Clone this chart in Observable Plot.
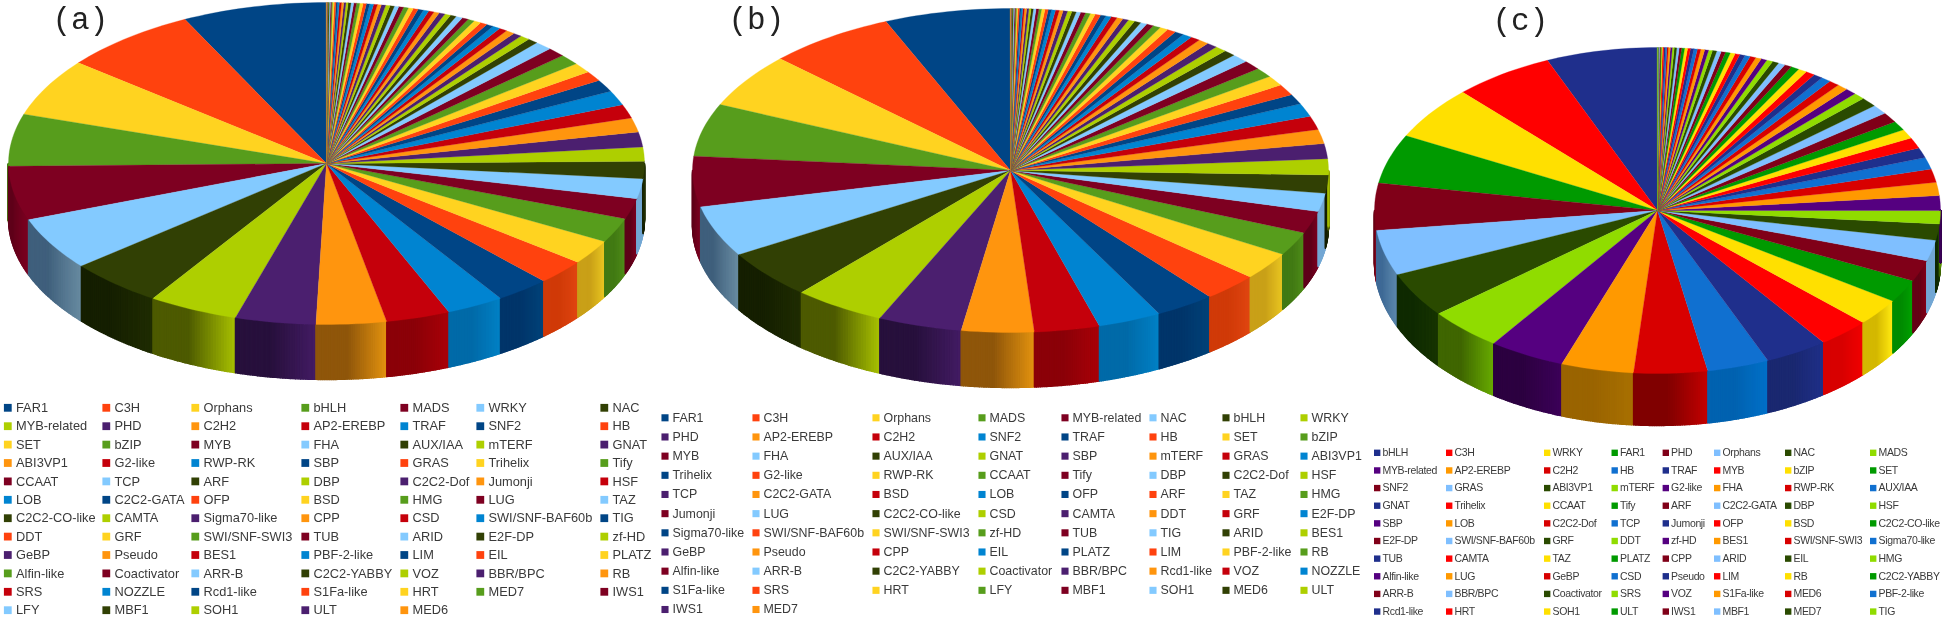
<!DOCTYPE html>
<html><head><meta charset="utf-8">
<script src="https://cdn.jsdelivr.net/npm/d3@7"></script>
<script src="https://cdn.jsdelivr.net/npm/@observablehq/plot@0.6"></script>
<style>
html,body{margin:0;padding:0;background:#fff;overflow:hidden}
svg{display:block;filter:blur(.35px)}
.legc text{letter-spacing:-.35px}
</style></head><body><div id="chart"></div>
<script>
// ---------- data: families in legend order, shares (degrees of arc) ----------
const namesA = ["FAR1","C3H","Orphans","bHLH","MADS","WRKY","NAC",
"MYB-related","PHD","C2H2","AP2-EREBP","TRAF","SNF2","HB",
"SET","bZIP","MYB","FHA","AUX/IAA","mTERF","GNAT",
"ABI3VP1","G2-like","RWP-RK","SBP","GRAS","Trihelix","Tify",
"CCAAT","TCP","ARF","DBP","C2C2-Dof","Jumonji","HSF",
"LOB","C2C2-GATA","OFP","BSD","HMG","LUG","TAZ",
"C2C2-CO-like","CAMTA","Sigma70-like","CPP","CSD","SWI/SNF-BAF60b","TIG",
"DDT","GRF","SWI/SNF-SWI3","TUB","ARID","E2F-DP","zf-HD",
"GeBP","Pseudo","BES1","PBF-2-like","LIM","EIL","PLATZ",
"Alfin-like","Coactivator","ARR-B","C2C2-YABBY","VOZ","BBR/BPC","RB",
"SRS","NOZZLE","Rcd1-like","S1Fa-like","HRT","MED7","IWS1",
"LFY","MBF1","SOH1","ULT","MED6"];
const valuesA = [26.4,24.8,20.8,18.8,19.4,19.1,17.3,16.4,14.7,12.8,11.7,10.5,9.9,9.1,8.8,8.9,7.4,7.2,6.2,5.1,5.4,5.1,5,5.2,4.4,3.6,3.6,3.8,3.3,3.2,
1.9,1.8,1.6,1.6,1.5,1.4,1.3,1.3,1.3,1.2,1.2,1.2,1.1,1.1,1.1,1,1,1,1,.9,.9,.9,.9,.8,.8,.8,.8,.7,.7,.7,.6,.6,.6,.6,.5,.5,.5,.4,.4,.4,.4,.3,.3,.3,.3,.2,.2,.2,.2,.1,.1,.1];

const namesB = ["FAR1","C3H","Orphans","MADS","MYB-related","NAC","bHLH","WRKY",
"PHD","AP2-EREBP","C2H2","SNF2","TRAF","HB","SET","bZIP",
"MYB","FHA","AUX/IAA","GNAT","SBP","mTERF","GRAS","ABI3VP1",
"Trihelix","G2-like","RWP-RK","CCAAT","Tify","DBP","C2C2-Dof","HSF",
"TCP","C2C2-GATA","BSD","LOB","OFP","ARF","TAZ","HMG",
"Jumonji","LUG","C2C2-CO-like","CSD","CAMTA","DDT","GRF","E2F-DP",
"Sigma70-like","SWI/SNF-BAF60b","SWI/SNF-SWI3","zf-HD","TUB","TIG","ARID","BES1",
"GeBP","Pseudo","CPP","EIL","PLATZ","LIM","PBF-2-like","RB",
"Alfin-like","ARR-B","C2C2-YABBY","Coactivator","BBR/BPC","Rcd1-like","VOZ","NOZZLE",
"S1Fa-like","SRS","HRT","LFY","MBF1","SOH1","MED6","ULT",
"IWS1","MED7"];
const valuesB = [23,23.3,19.5,18.9,18,18.3,17.5,16.8,15.3,13.2,11.9,11.6,10.9,10.1,9.9,8.5,7.9,6.6,6.5,5.7,5.4,5.1,4.9,4.7,3.6,3.9,3.6,3.5,3.3,3.1,
2.2,2.1,2,1.9,1.8,1.7,1.7,1.6,1.5,1.4,1.3,1.2,1.2,1.2,1.1,1.1,1.1,1,1,1,.9,.9,.9,.8,.8,.8,.8,.7,.7,.7,.6,.6,.6,.5,.5,.5,.4,.4,.4,.4,.3,.3,.3,.3,.2,.2,.2,.2,.2,.1,.1,.1];

const namesC = ["bHLH","C3H","WRKY","FAR1","PHD","Orphans","NAC","MADS",
"MYB-related","AP2-EREBP","C2H2","HB","TRAF","MYB","bZIP","SET",
"SNF2","GRAS","ABI3VP1","mTERF","G2-like","FHA","RWP-RK","AUX/IAA",
"GNAT","Trihelix","CCAAT","Tify","ARF","C2C2-GATA","DBP","HSF",
"SBP","LOB","C2C2-Dof","TCP","Jumonji","OFP","BSD","C2C2-CO-like",
"E2F-DP","SWI/SNF-BAF60b","GRF","DDT","zf-HD","BES1","SWI/SNF-SWI3","Sigma70-like",
"TUB","CAMTA","TAZ","PLATZ","CPP","ARID","EIL","HMG",
"Alfin-like","LUG","GeBP","CSD","Pseudo","LIM","RB","C2C2-YABBY",
"ARR-B","BBR/BPC","Coactivator","SRS","VOZ","S1Fa-like","MED6","PBF-2-like",
"Rcd1-like","HRT","SOH1","ULT","IWS1","MBF1","MED7","TIG"];
const valuesC = [22.9,20.6,19.2,17.6,16.7,16.2,16.1,15.3,15.6,14.9,15.1,12.7,13,10.6,9.7,8.2,7.6,7.4,5.8,4.7,5.3,4.7,4.8,4.2,3.6,3.8,3.3,3.3,3.6,3.4,3.4,
2.4,2.3,2.2,2.2,2,1.9,1.9,1.8,1.7,1.5,1.4,1.3,1.3,1.2,1.2,1.2,1.1,1.1,1,1,1,.9,.9,.9,.8,.8,.8,.7,.7,.7,.6,.6,.6,.5,.5,.5,.4,.4,.4,.3,.3,.3,.3,.2,.2,.2,.2,.1,.1];

// ---------- styles ----------
const paletteAB = ["#004586","#ff420e","#ffd320","#579d1c","#7e0021","#83caff","#314004","#aecf00","#4b1f6f","#ff950e","#c5000b","#0084d1"];
const wallDarkAB = ["#00356a","#d03a08","#c9a018","#427a14","#5f001a","#3f5f7c","#151f00","#4d5a00","#27103c","#8f560a","#8b0008","#006aa8"];
const wallLightAB = ["#004278","#e04510","#e8c420","#4f8c18","#7a0020","#66899f","#1f2c02","#a4bc00","#421b62","#e0900f","#a80008","#0080c4"];
const paletteC = ["#1f2f8c","#ff0000","#ffe000","#009a00","#800018","#7fbfff","#2a4a00","#90dc00","#550080","#ff9900","#d80000","#1070d0"];
const wallDarkC = ["#1a2870","#d80000","#d4b800","#008c00","#650016","#3f6a96","#0f2a00","#3f6600","#2c0040","#9a6400","#800000","#0062b0"];
const wallLightC = ["#1f2f88","#f00000","#ffe810","#00a000","#800018","#5a86ac","#163400","#66a800","#3c0058","#a87000","#c00000","#0070c8"];
const rimLightBlue = "#74a8d4"; // the pale wall on the right-hand rim

// ---------- layout ----------
const pies = [
  {id:"a",names:namesA,values:valuesA,cx:326,cy:163,rx:318,ry:161,depth:55,palette:paletteAB,wd:wallDarkAB,wl:wallLightAB},
  {id:"b",names:namesB,values:valuesB,cx:1010,cy:170,rx:318,ry:162,depth:55,palette:paletteAB,wd:wallDarkAB,wl:wallLightAB},
  {id:"c",names:namesC,values:valuesC,cx:1657,cy:210,rx:283,ry:163,depth:52,palette:paletteC,wd:wallDarkC,wl:wallLightC}
];
const panelLabels = [{t:"(a)",x:52,y:19},{t:"(b)",x:728,y:19},{t:"(c)",x:1492,y:20}];
const legends = [
  {names:namesA,palette:paletteAB,cols:[15.5,114,203,313,412,488,612],y0:407.3,step:18.4,size:12.8,off:8.2,r:4.4,cls:null},
  {names:namesB,palette:paletteAB,cols:[672,763,883,989,1072,1160,1233,1311],y0:417.3,step:19.17,size:12.4,off:7.5,r:4,cls:null},
  {names:namesC,palette:paletteC,cols:[1382,1454,1552,1619.5,1670.6,1722,1793,1878],y0:452.3,step:17.64,size:10.5,off:5.3,r:3.6,cls:"legc"}
];

// ---------- geometry from the values ----------
const rad = d => d * Math.PI / 180;
const faces = [], walls = [];
for (const p of pies) {
  const total = d3.sum(p.values);
  const px = a => p.cx - p.rx * Math.sin(a), py = a => p.cy - p.ry * Math.cos(a);
  let acc = 0;
  p.values.forEach((v, i) => {
    const a0 = acc / total * 2 * Math.PI; acc += v;
    const a1 = acc / total * 2 * Math.PI;
    const c = i % 12, id = p.id + i, n = Math.max(2, Math.ceil((a1 - a0) / rad(1.5)));
    faces.push({z:id,x:p.cx,y:p.cy,c:p.palette[c]});
    for (let j = 0; j <= n; j++) { const a = a0 + (a1 - a0) * j / n; faces.push({z:id,x:px(a),y:py(a),c:p.palette[c]}); }
    // side wall: only the front half of the rim shows
    const w0 = Math.max(a0, Math.PI / 2), w1 = Math.min(a1, 3 * Math.PI / 2);
    if (w1 > w0) {
      const strips = 32, col = d3.interpolateRgb(p.wd[c], p.wl[c]);
      for (let s = 0; s < strips; s++) {
        const b0 = w0 + (w1 - w0) * s / strips, b1 = w0 + (w1 - w0) * (s + 1) / strips;
        const t = s / (strips - 1);
        const shade = (c === 5 && i > 12) ? rimLightBlue : t < .45 ? p.wd[c] : col((t - .45) / .55);
        const zid = id + "w" + s;
        for (const [a, d] of [[b0,0],[b1,0],[b1,p.depth],[b0,p.depth]]) walls.push({z:zid,x:px(a),y:py(a) + d,c:shade});
      }
    }
  });
}
const legendMarks = legends.flatMap(l => {
  const rows = l.names.map((name, i) => ({
    name, c:l.palette[i % 12],
    x:l.cols[i % l.cols.length], y:l.y0 + Math.floor(i / l.cols.length) * l.step
  }));
  return [
    Plot.dot(rows,{x:d=>d.x-l.off,y:"y",symbol:"square",r:l.r,fill:"c"}),
    Plot.text(rows,{x:"x",y:"y",text:"name",textAnchor:"start",fontFamily:"Liberation Sans",fontSize:l.size,fill:"#3a3a3a",...(l.cls?{className:l.cls}:{})})
  ];
});

const svg = Plot.plot({
  width:1944, height:619, margin:0,
  x:{domain:[0,1944],range:[0,1944],axis:null},
  y:{domain:[0,619],range:[0,619],axis:null},
  color:{type:"identity"},
  style:{background:"#fff"},
  marks:[
    Plot.line(walls,{x:"x",y:"y",z:"z",fill:"c",stroke:"c",strokeWidth:1.4,curve:"linear-closed"}),
    Plot.line(faces,{x:"x",y:"y",z:"z",fill:"c",stroke:"c",strokeWidth:.3,curve:"linear-closed"}),
    Plot.text(panelLabels,{x:"x",y:"y",text:"t",textAnchor:"start",fontFamily:"Liberation Mono",fontSize:31,fill:"#222"}),
    ...legendMarks
  ]
});
document.getElementById("chart").append(svg);
</script></body></html>
